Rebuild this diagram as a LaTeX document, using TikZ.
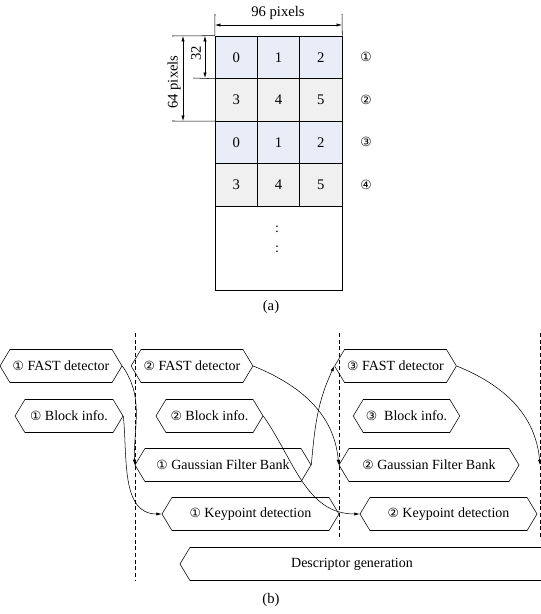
\documentclass[tikz,border=0pt]{standalone}
\usepackage{fontspec}
\setmainfont{Liberation Serif}
\newfontfamily\circfont{DejaVu Sans}
\usepackage{xcolor}
\usetikzlibrary{shapes.symbols,arrows.meta}
\definecolor{rowblue}{HTML}{E9EDF7}
\definecolor{rowgray}{HTML}{F0F0F0}
\newcommand{\cn}[1]{{\circfont\fontsize{9.5}{11}\selectfont #1}}

\begin{document}
\begin{tikzpicture}[
  x=0.75pt, y=-0.75pt,
  font=\fontsize{10.5}{12.5}\selectfont,
  >={Latex[length=4pt,width=2.4pt]},
  cell/.style={draw, minimum width=31.75pt, minimum height=31.9pt, inner sep=0pt, font=\fontsize{11}{13}\selectfont},
  hexbox/.style={draw, signal, signal to=west and east, signal pointer angle=118,
    minimum height=24.75pt, minimum width=#1*0.75pt, inner xsep=2pt, inner ysep=0pt},
  flow/.style={->, thin},
  sep/.style={densely dashed, very thin}
]
  \useasboundingbox (0,0) rectangle (541,614);

  % (a) block layout
  \foreach \r/\rowc in {0/rowblue,1/rowgray,2/rowblue,3/rowgray}
    \foreach \c in {0,1,2} {
      \pgfmathtruncatemacro{\num}{\c+3*mod(\r,2)}
      \node[cell, fill=\rowc] (c\r\c) at (236.2+42.33*\c, 57.2+42.5*\r) {\num};
    };
  \draw (c30.south west) rectangle (342,290);
  \node (dotA) at (277,229) {:};
  \node (dotB) at (277,249) {:};

  \node (rowA) at (366,57) {\cn{①}};
  \node (rowB) at (366,100) {\cn{②}};
  \node (rowC) at (366,142) {\cn{③}};
  \node (rowD) at (366,185) {\cn{④}};

  % dimensions
  \coordinate (wl) at (215,14);
  \coordinate (wr) at (342,14);
  \draw (wl) -- (c00.north west);
  \draw (wr) -- (c02.north east);
  \draw[<->] (215,25) -- (342,25);
  \node[font=\fontsize{11}{13}\selectfont] (wtxt) at (278,13) {96 pixels};

  \coordinate (ha) at (172,36);
  \coordinate (hb) at (172,121);
  \coordinate (hc) at (193,78);
  \draw (ha) -- (c00.north west);
  \draw (hb) -- (c10.south west);
  \draw (hc) -- (c00.south west);
  \draw[<->] (183,36) -- (183,121);
  \draw[<->] (205,36) -- (205,78);
  \node[rotate=90, font=\fontsize{11}{13}\selectfont] (htxt) at (174,82) {64 pixels};
  \node[rotate=90, font=\fontsize{11}{13}\selectfont] (qtxt) at (196,53) {32};

  \node[font=\fontsize{11}{13}\selectfont] (capA) at (271,307) {(a)};

  % (b) pipeline
  \draw[sep] (135,333) -- (135,581);
  \draw[sep] (339,333) -- (339,538);
  \draw[sep] (540,333) -- (540,538);

  \node[hexbox=122] (F1) at (61,366) {\cn{①} FAST detector};
  \node[hexbox=112] (F2) at (192,366) {\cn{②} FAST detector};
  \node[hexbox=111] (F3) at (395.5,366) {\cn{③} FAST detector};
  \node[hexbox=108] (B1) at (69,416) {\cn{①} Block info.};
  \node[hexbox=107] (B2) at (209.5,416) {\cn{②} Block info.};
  \node[hexbox=105] (B3) at (406.5,416) {\cn{③}\ \ Block info.};
  \node[hexbox=176] (G1) at (223,465) {\cn{①} Gaussian Filter Bank};
  \node[hexbox=180] (G2) at (429,465) {\cn{②} Gaussian Filter Bank};
  \node[hexbox=177] (K1) at (250.5,514) {\cn{①} Keypoint detection};
  \node[hexbox=177] (K2) at (448.5,514) {\cn{②} Keypoint detection};
  \node[hexbox=390] (D) at (375,564) {};
  \node (Dtxt) at (352,564) {Descriptor generation};
  \coordinate (G3) at (540,465);

  \draw[flow] (F1.east) to[out=-55, in=92] (G1.west);
  \draw[flow] (B1.east) to[out=-84, in=180] (K1.west);
  \draw[flow] (F2.east) to[out=-22, in=95] (G2.west);
  \draw[flow] (B2.east) to[out=-55, in=180] (K2.west);
  \draw[flow] (G1.east) to[out=85, in=-115] (F3.west);
  \draw[flow] (F3.east) to[out=-22, in=95] (G3);

  \node[font=\fontsize{11}{13}\selectfont] (capB) at (271,600) {(b)};
\end{tikzpicture}
\end{document}
